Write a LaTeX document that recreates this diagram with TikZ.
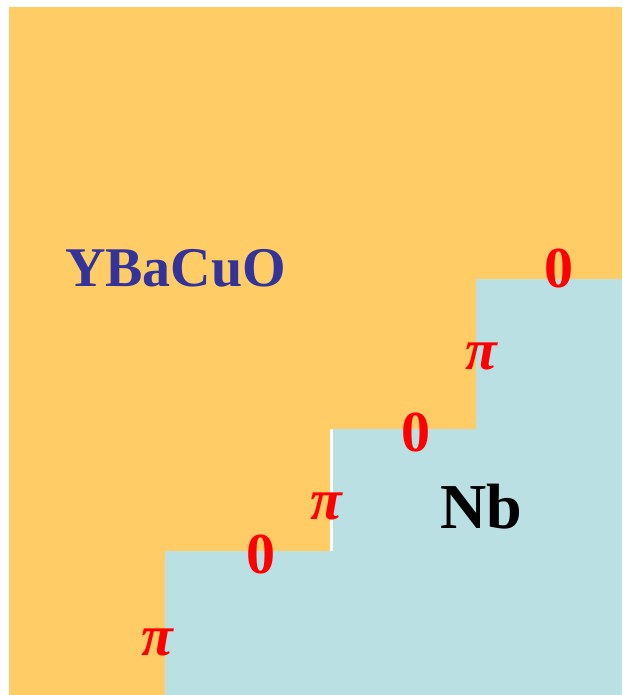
\documentclass[tikz,border=0pt]{standalone}
\usepackage{fontspec}
\setmainfont{Liberation Serif}
\definecolor{ybco}{HTML}{FFCC66}
\definecolor{nbblue}{HTML}{BBE0E3}
\definecolor{ybtext}{HTML}{333399}
\begin{document}
\begin{tikzpicture}[x=1pt,y=-1pt,
  phase/.style={inner sep=0pt, anchor=base, text=red, font=\bfseries\fontsize{58}{60}\selectfont},
  pistyle/.style={phase, font=\bfseries\itshape\fontsize{58}{60}\selectfont},
  material/.style={inner sep=0pt, anchor=base, font=\bfseries\fontsize{56}{60}\selectfont}]
\useasboundingbox (0,0) rectangle (622,695);
\fill[ybco] (9,7) rectangle (622,695);
\fill[nbblue] (165,695) -- (165,551) -- (333,551) -- (333,429) -- (476,429) -- (476,279) -- (622,279) -- (622,695) -- cycle;
\fill[white] (330,429) rectangle (333,551);
\node[material, text=ybtext] (ybco) at (175.5,286.5) {YBaCuO};
\node[material, text=black, font=\bfseries\fontsize{64}{66}\selectfont] (nb) at (481,528) {Nb};
\node[phase] (z1) at (260.7,573) {0};
\node[phase] (z2) at (415.7,451) {0};
\node[phase] (z3) at (559,287) {0};
\node[pistyle] (p1) at (157,655) {π};
\node[pistyle] (p2) at (326,519) {π};
\node[pistyle] (p3) at (481,369) {π};
\end{tikzpicture}
\end{document}
